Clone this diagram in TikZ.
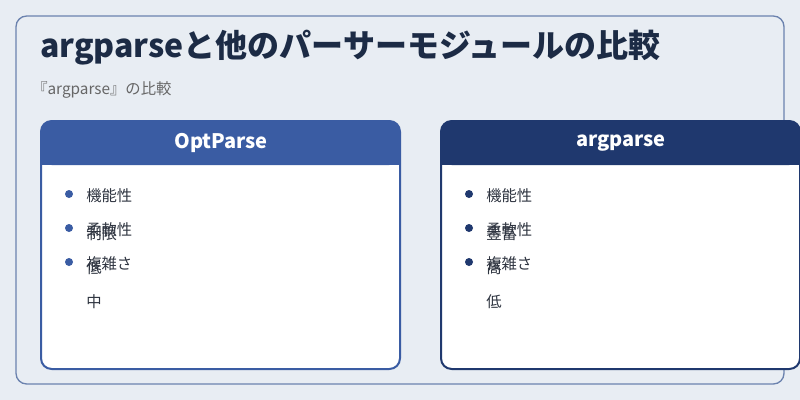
\documentclass[tikz,border=0pt]{standalone}
\usepackage{fontspec}
\setmainfont{Noto Sans CJK JP}
\definecolor{bg}{HTML}{E8EDF3}
\definecolor{frame}{HTML}{6B82AE}
\definecolor{navy}{HTML}{1C2B45}
\definecolor{cardA}{HTML}{3A5CA3}
\definecolor{cardB}{HTML}{1F386E}
\definecolor{txt}{HTML}{2E3440}
\begin{document}
\begin{tikzpicture}[x=0.75pt,y=-0.75pt,
  item/.style={anchor=west,font=\fontsize{11.5}{13}\selectfont,text=txt,inner sep=0},
  head/.style={font=\fontsize{15}{18}\selectfont\bfseries,text=white}]
\fill[bg] (0,0) rectangle (800,400);
\useasboundingbox (0,0) rectangle (800,400);
\draw[frame,line width=1pt,rounded corners=8pt] (16,16) rectangle (784,384);
\node[anchor=west,inner sep=0,font=\fontsize{24}{28}\selectfont\bfseries,text=navy] (title) at (40,48) {argparseと他のパーサーモジュールの比較};
\node[anchor=west,inner sep=0,font=\fontsize{11.5}{13}\selectfont,text=gray!80!black] (sub) at (32,90) {『argparse』の比較};
\foreach \x/\c/\h/\va/\vb/\vc in {41/cardA/OptParse/制限/低/中, 441/cardB/argparse/豊富/高/低}{
  \fill[white,rounded corners=8pt] (\x,121) rectangle (\x+359,369);
  \fill[\c,rounded corners=8pt] (\x,121) rectangle (\x+359,165);
  \fill[\c] (\x,150) rectangle (\x+359,165);
  \draw[\c,line width=1.5pt,rounded corners=8pt] (\x,121) rectangle (\x+359,369);
  \node[head] at (\x+180,143) {\h};
  \foreach \y/\t in {196/機能性,230/柔軟性,264/複雑さ}{
    \fill[\c] (\x+28,\y-2) circle (4);
    \node[item] at (\x+45,\y) {\t};
  }
  \node[item] at (\x+45,234) {\va};
  \node[item] at (\x+45,268) {\vb};
  \node[item] at (\x+45,302) {\vc};
}
\end{tikzpicture}
\end{document}
